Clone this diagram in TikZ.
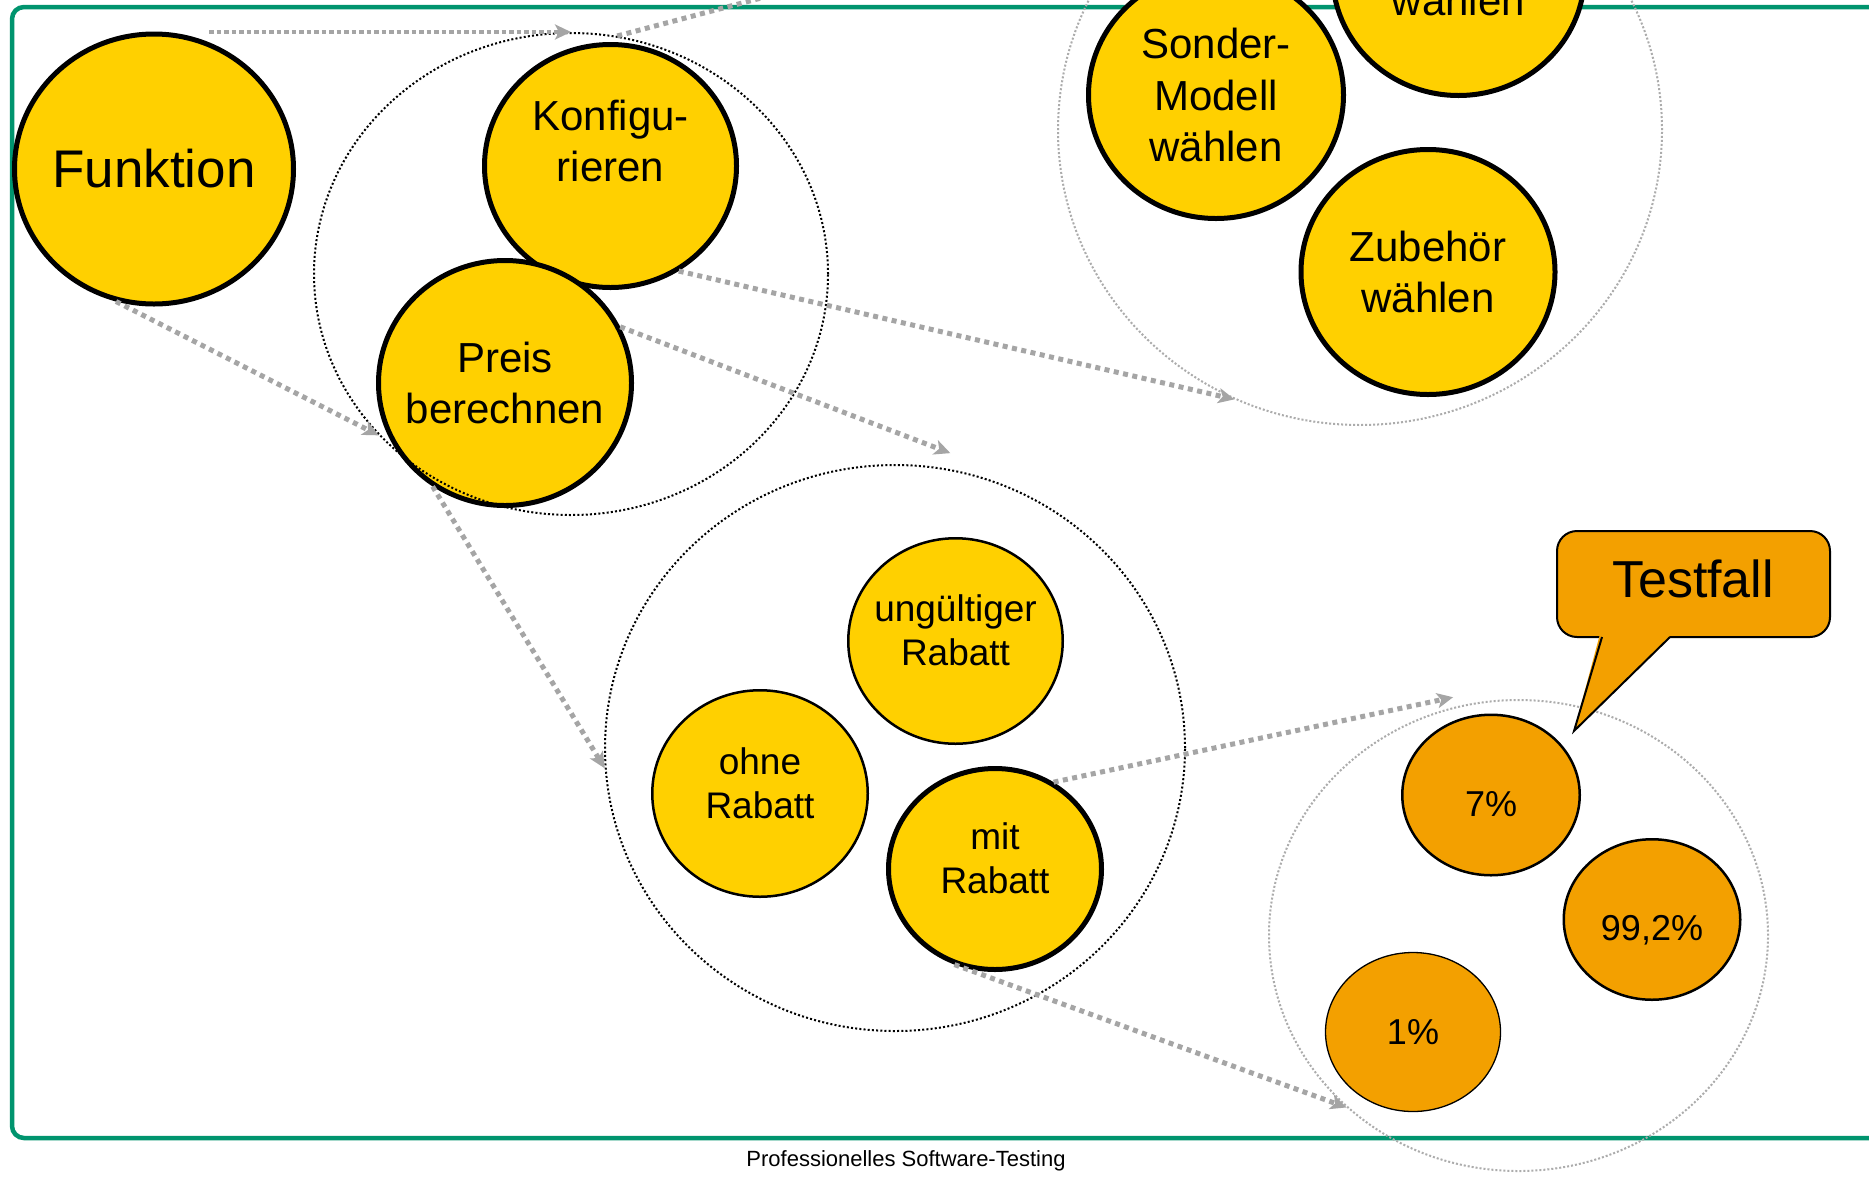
\documentclass[tikz,border=0pt]{standalone}
\usepackage{fontspec}
\setmainfont{Liberation Sans}
\usetikzlibrary{arrows.meta,shapes.geometric}
\definecolor{fyellow}{RGB}{255,208,0}
\definecolor{forange}{RGB}{243,160,0}
\definecolor{fgreen}{RGB}{0,148,110}
\definecolor{agray}{RGB}{165,165,165}
\definecolor{dgray}{RGB}{172,172,172}
\newcommand{\padd}[1]{\rule[-#1]{0pt}{0pt}}
\begin{document}
\begin{tikzpicture}[x=1pt,y=-1pt,
  esize/.style 2 args={minimum width=#1pt, minimum height=#2pt},
  bigell/.style={ellipse, draw=black, line width=5pt, fill=fyellow, inner sep=-40pt, align=center, font=\fontsize{42}{51.5}\selectfont},
  midell/.style={ellipse, draw=black, line width=2.5pt, fill=fyellow, inner sep=-40pt, align=center, font=\fontsize{37}{44}\selectfont},
  pctell/.style={ellipse, draw=black, line width=2.5pt, fill=forange, inner sep=-30pt, font=\fontsize{36}{43}\selectfont},
  blackgroup/.style={ellipse, draw=black, line width=2pt, dash pattern=on 2pt off 2.2pt, inner sep=0pt},
  graygroup/.style={ellipse, draw=dgray, line width=2pt, dash pattern=on 2pt off 2pt, inner sep=0pt},
  garrow/.style={draw=agray, line width=5pt, dash pattern=on 5pt off 4.5pt, -{Stealth[length=16pt,width=15pt,inset=4pt]}},
  gline/.style={draw=agray, line width=5pt, dash pattern=on 5pt off 4.5pt},
  frame/.style={draw=fgreen, line width=4.5pt, rounded corners=12pt},
]
\useasboundingbox (0,0) rectangle (1869,1176);
\clip (0,0) rectangle (1869,1176);
\fill[white] (0,0) rectangle (1869,1176);

% green frame
\draw[frame] (1950,7) -- (12,7) -- (12,1138) -- (1950,1138);
\node[anchor=base, font=\fontsize{22}{26}\selectfont] (footer) at (906,1166) {Professionelles Software-Testing};

% yellow ellipses
\node[bigell, font=\fontsize{53}{60}\selectfont, esize={279}{270}] (fkt) at (154,169) {Funktion};
\node[bigell, esize={252}{243}] (konf) at (610.5,166) {Konfigu-\\rieren\padd{50pt}};
\node[bigell, esize={253}{245}] (preis) at (505,383) {Preis\\berechnen};
\node[bigell, esize={255}{247}] (sonder) at (1216,95) {Sonder-\\Modell\\wählen};
\node[bigell, esize={252}{243}] (modell) at (1458.5,-26) {};
\node[anchor=base, font=\fontsize{42}{51.5}\selectfont] (mtxt) at (1458.5,15) {wählen};
\node[bigell, esize={254}{245}] (zub) at (1428,272) {Zubehör\\wählen};

\node[midell, esize={214.5}{205.5}] (ung) at (955.5,641) {ungültiger\\Rabatt\padd{21pt}};
\node[midell, esize={215.5}{206.5}] (ohne) at (760,793.5) {ohne\\Rabatt\padd{21pt}};
\node[midell, line width=5pt, esize={213}{201}] (mit) at (995,869) {mit\\Rabatt\padd{21pt}};

% orange test cases
\node[pctell, esize={177.5}{160.5}] (p7) at (1491,795) {\rule{0pt}{43pt}7\%};
\node[pctell, esize={176.5}{160.5}] (p99) at (1652,919.5) {\rule{0pt}{46pt}99,2\%};
\node[pctell, line width=1.3pt, esize={175}{159}] (p1) at (1413,1032) {1\%};

% groups
\node[blackgroup, esize={514}{482}] (grp1) at (571,274) {};
\node[graygroup, esize={604}{590}] (grp2) at (1360,130) {};
\node[blackgroup, esize={580}{566}] (grp3) at (895,748) {};
\node[graygroup, esize={499}{471}] (grp4) at (1518.5,935.5) {};

% callout
\filldraw[fill=forange, draw=black, line width=2pt, rounded corners=20pt] (1557,531) rectangle (1830,637);
\fill[forange] (1600,634) -- (1574,731) -- (1672,634) -- cycle;
\draw[black, line width=2pt, line join=miter] (1602,637) -- (1574,731) -- (1670,637);
\node[anchor=base, font=\fontsize{52}{60}\selectfont] (tf) at (1693,597) {Testfall};

% connectors
\coordinate (fs) at (209,32);
\coordinate (offtop) at (1000,-65);
\draw[garrow, line width=4.5pt, dash pattern=on 4.5pt off 3pt] (fs) -- (grp1.north);
\draw[gline] (grp1.79) -- (offtop);
\draw[garrow] (fkt.254) -- (grp1.220);
\draw[garrow] (konf.303) -- (grp2.245);
\draw[garrow] (preis.26) -- ([shift={(6,-15)}]grp3.80);
\draw[garrow] (preis.235) -- (grp3.184);
\draw[garrow] (mit.56) -- ([shift={(0,-10)}]grp4.106);
\draw[garrow] (mit.247) -- (grp4.225);
\end{tikzpicture}
\end{document}
